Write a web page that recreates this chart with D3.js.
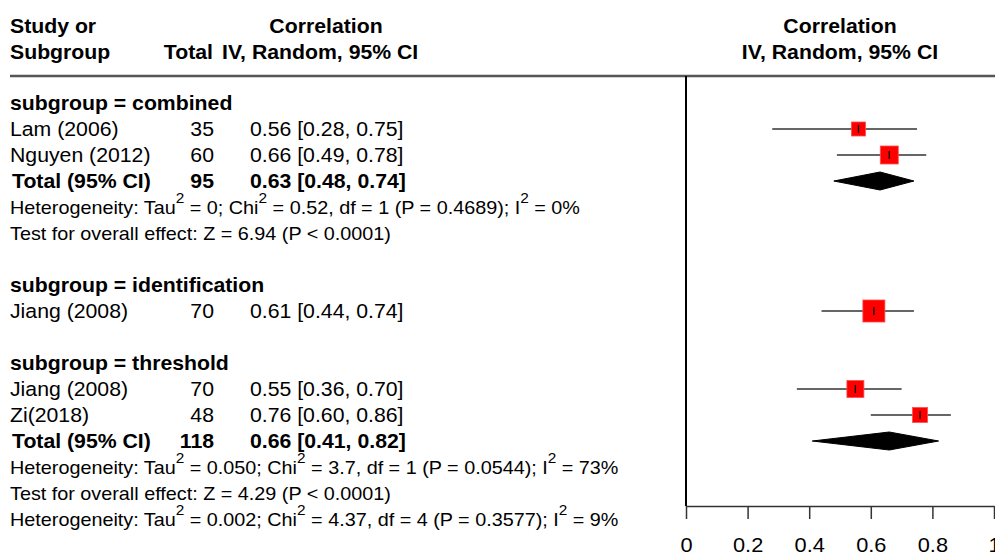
<!DOCTYPE html>
<html>
<head>
<meta charset="utf-8">
<script src="https://cdn.jsdelivr.net/npm/d3@7"></script>
<style>
  html, body { margin: 0; padding: 0; background: #fff; }
  svg { display: block; }
  text { font-family: "Liberation Sans", Arial, sans-serif; white-space: pre; fill: #000; }
</style>
</head>
<body>
<svg id="chart" width="995" height="555"></svg>
<script>
// ---- Study-level correlations (IV, random effects) ----
const studyNames   = ["Lam (2006)", "Nguyen (2012)", "Jiang (2008)", "Jiang (2008)", "Zi(2018)"];
const studyGroups  = ["combined", "combined", "identification", "threshold", "threshold"];
const studyTotals  = [35, 60, 70, 70, 48];
const studyCor     = [0.56, 0.66, 0.61, 0.55, 0.76];
const studyLower   = [0.28, 0.49, 0.44, 0.36, 0.60];
const studyUpper   = [0.75, 0.78, 0.74, 0.70, 0.86];
const studyWeight  = [12.9, 21.3, 31.9, 19.0, 14.8];   // % weight, sets square area

// ---- Subgroups and pooled estimates ----
const subgroupNames = ["combined", "identification", "threshold"];
const pooledGroups  = ["combined", "threshold"];
const pooledTotals  = [95, 118];
const pooledCor     = [0.63, 0.66];
const pooledLower   = [0.48, 0.41];
const pooledUpper   = [0.74, 0.82];
const hetTau2 = ["0", "0.050"];
const hetChi2 = ["0.52", "3.7"];
const hetDf   = [1, 1];
const hetP    = ["0.4689", "0.0544"];
const hetI2   = ["0%", "73%"];
const effectZ = ["6.94", "4.29"];
const effectP = ["P < 0.0001", "P < 0.0001"];

// ---- Heterogeneity across all studies ----
const overallTau2 = "0.002";
const overallChi2 = "4.37";
const overallDf   = 4;
const overallP    = "0.3577";
const overallI2   = "9%";

// ---- Axis ----
const axisTicks = [0, 0.2, 0.4, 0.6, 0.8, 1];

// ---------------------------------------------------------------
const svg = d3.select("#chart");
const fmt2 = d3.format(".2f");

const MAIN = 19.5, MAIN_SX = 1.09;   // table text
const SMALL = 18, SMALL_SX = 1.1;    // heterogeneity / test lines

const x = d3.scaleLinear().domain([0, 1]).range([686, 994]);
const rowY = d3.scaleLinear().domain([0, 1]).range([110, 136]);   // text baseline per row
const sq = d3.scaleSqrt().domain([0, d3.max(studyWeight)]).range([0, 22]);

function txt(px, py, str, o = {}) {
  const t = svg.append("text")
    .attr("transform", `translate(${px},${py}) scale(${o.sx || MAIN_SX},1)`)
    .attr("text-anchor", o.anchor || "start")
    .attr("font-size", o.size || MAIN)
    .attr("font-weight", o.bold ? "bold" : "normal");
  if (typeof str === "string") t.text(str);
  else {
    // segments: plain strings or {sup: "..."}
    let raised = false;
    str.forEach(seg => {
      if (typeof seg === "string") {
        t.append("tspan").attr("dy", raised ? 11 : 0).text(seg);
        raised = false;
      } else {
        t.append("tspan").attr("dy", -11).attr("font-size", 14).text(seg.sup);
        raised = true;
      }
    });
  }
  return t;
}

function hetSegments(tau2, chi2, df, p, i2) {
  return ["Heterogeneity: Tau", {sup: "2"}, ` = ${tau2}; Chi`, {sup: "2"},
          ` = ${chi2}, df = ${df} (P = ${p}); I`, {sup: "2"}, ` = ${i2}`];
}

// ---- Headers ----
txt(10, 33, "Study or", {bold: true});
txt(10, 58.5, "Subgroup", {bold: true});
txt(326, 33, "Correlation", {bold: true, anchor: "middle"});
txt(213, 58.5, "Total", {bold: true, anchor: "end"});
txt(222, 58.5, "IV, Random, 95% CI", {bold: true});
txt(840, 33, "Correlation", {bold: true, anchor: "middle"});
txt(840, 58.5, "IV, Random, 95% CI", {bold: true, anchor: "middle"});

svg.append("line")
  .attr("x1", 10).attr("x2", 995).attr("y1", 76).attr("y2", 76)
  .attr("stroke", "#555").attr("stroke-width", 2.5);

// ---- Row layout ----
const rows = [];
let idx = 0;
subgroupNames.forEach((g, gi) => {
  if (gi > 0) idx++;                       // blank line between subgroups
  rows.push({type: "group", idx: idx++, g});
  studyGroups.forEach((sg, i) => { if (sg === g) rows.push({type: "study", idx: idx++, i}); });
  const p = pooledGroups.indexOf(g);
  if (p >= 0) {
    rows.push({type: "total", idx: idx++, p});
    rows.push({type: "het", idx: idx++, p});
    rows.push({type: "test", idx: idx++, p});
  }
});
rows.push({type: "overall", idx: idx++});

// ---- Plot frame ----
svg.append("line")
  .attr("x1", x(0)).attr("x2", x(0)).attr("y1", 76).attr("y2", 506)
  .attr("stroke", "#000").attr("stroke-width", 2);

const axis = d3.axisBottom(x)
  .tickValues(axisTicks)
  .tickSize(13)
  .tickSizeOuter(0)
  .tickFormat(d3.format("~g"));

const ax = svg.append("g").attr("transform", "translate(0,506)").call(axis);
ax.select(".domain").attr("stroke", "#333").attr("stroke-width", 1.5);
ax.selectAll(".tick line").attr("stroke", "#333").attr("stroke-width", 1.5);
ax.selectAll(".tick text")
  .attr("y", 46).attr("dy", null)
  .attr("fill", "#000")
  .attr("font-size", 20)
  .attr("font-family", "'Liberation Sans', Arial, sans-serif")
  .attr("transform", `scale(${MAIN_SX},1)`);

// ---- Rows ----
rows.forEach(r => {
  const by = rowY(r.idx);
  const cy = by - 7;
  if (r.type === "group") {
    txt(10, by, `subgroup = ${r.g}`, {bold: true});
  } else if (r.type === "study") {
    const i = r.i;
    txt(10, by, studyNames[i]);
    txt(214, by, String(studyTotals[i]), {anchor: "end"});
    txt(250, by, `${fmt2(studyCor[i])} [${fmt2(studyLower[i])}, ${fmt2(studyUpper[i])}]`);
    svg.append("line")
      .attr("x1", x(studyLower[i])).attr("x2", x(studyUpper[i]))
      .attr("y1", cy).attr("y2", cy)
      .attr("stroke", "#333").attr("stroke-width", 1.5);
    const s = sq(studyWeight[i]);
    svg.append("rect")
      .attr("x", x(studyCor[i]) - s / 2).attr("y", cy - s / 2)
      .attr("width", s).attr("height", s)
      .attr("fill", "#ff0000").attr("stroke", "#ff4d4d").attr("stroke-width", 0.8);
    svg.append("line")
      .attr("x1", x(studyCor[i])).attr("x2", x(studyCor[i]))
      .attr("y1", cy - 4).attr("y2", cy + 4)
      .attr("stroke", "#000").attr("stroke-width", 1.3);
  } else if (r.type === "total") {
    const p = r.p;
    txt(12, by, "Total (95% CI)", {bold: true});
    txt(214, by, String(pooledTotals[p]), {bold: true, anchor: "end"});
    txt(250, by, `${fmt2(pooledCor[p])} [${fmt2(pooledLower[p])}, ${fmt2(pooledUpper[p])}]`, {bold: true});
    const h = 9;
    const pts = [[x(pooledLower[p]), cy], [x(pooledCor[p]), cy - h],
                 [x(pooledUpper[p]), cy], [x(pooledCor[p]), cy + h]];
    svg.append("path")
      .attr("d", d3.line()(pts) + "Z")
      .attr("fill", "#000").attr("stroke", "#000").attr("stroke-width", 1);
  } else if (r.type === "het") {
    const p = r.p;
    txt(10, by, hetSegments(hetTau2[p], hetChi2[p], hetDf[p], hetP[p], hetI2[p]),
        {size: SMALL, sx: SMALL_SX});
  } else if (r.type === "test") {
    const p = r.p;
    txt(10, by, `Test for overall effect: Z = ${effectZ[p]} (${effectP[p]})`,
        {size: SMALL, sx: SMALL_SX});
  } else if (r.type === "overall") {
    txt(10, by, hetSegments(overallTau2, overallChi2, overallDf, overallP, overallI2),
        {size: SMALL, sx: SMALL_SX});
  }
});
</script>
</body>
</html>
